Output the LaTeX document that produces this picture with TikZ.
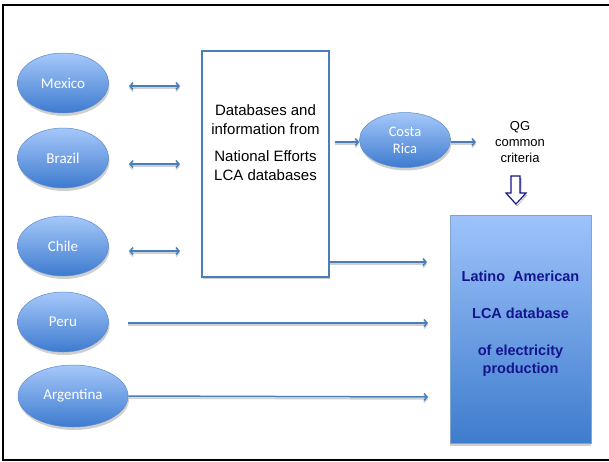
\documentclass[tikz,border=0pt]{standalone}
\usepackage{fontspec}
\setmainfont{Liberation Sans}
\newfontfamily\calib{Carlito}
\usetikzlibrary{arrows.meta,shapes.geometric,shadows}
\definecolor{lineblue}{HTML}{4A7EBB}
\definecolor{elltop}{HTML}{A6C8FA}
\definecolor{ellbot}{HTML}{3D7BCF}
\definecolor{ellborder}{HTML}{5B8ACB}
\definecolor{boxtop}{HTML}{9EC3FB}
\definecolor{boxbot}{HTML}{3E7CCD}
\definecolor{navy}{HTML}{14148C}
\definecolor{shade}{HTML}{CFCFCF}
\begin{document}
\begin{tikzpicture}[x=1pt,y=-1pt,
  country/.style={ellipse, draw=ellborder, line width=0.5pt, top color=elltop, bottom color=ellbot,
    minimum width=91pt, minimum height=60pt, inner sep=0pt, text=white, align=center,
    font=\calib\fontsize{15}{17}\selectfont,
    drop shadow={shadow xshift=1pt, shadow yshift=-3pt, fill=shade, opacity=1}},
  conn/.style={draw=lineblue, line width=1.5pt, -{Straight Barb[length=3pt,width=7pt]},
    preaction={draw=shade, line width=1.5pt, transform canvas={yshift=-2pt}}},
  dconn/.style={conn, {Straight Barb[length=3pt,width=7pt]}-{Straight Barb[length=3pt,width=7pt]}},
  dbtxt/.style={font=\fontsize{15}{19}\selectfont, align=center, inner sep=0pt},
  qgtxt/.style={font=\fontsize{13}{16}\selectfont, align=center, inner sep=0pt},
  latxt/.style={font=\bfseries\fontsize{14.5}{18}\selectfont, text=navy, align=center, inner sep=0pt}]
\useasboundingbox (0,0) rectangle (609,461);
% frame
\draw[line width=2pt] (612,5) -- (3,5) -- (3,460) -- (612,460);
% countries
\node[country] (mexico) at (63,83) {Mexico};
\node[country] (brazil) at (63,158) {Brazil};
\node[country] (chile) at (63,246) {Chile};
\node[country] (peru) at (63,322) {Peru};
\node[country, minimum width=110pt, minimum height=62pt] (argentina) at (73,396) {Argentina};
\node[country, minimum width=91pt, minimum height=55pt, font=\calib\fontsize{14.5}{17}\selectfont] (costa) at (405,140) {Costa\\Rica};
% database box
\node[draw=lineblue, line width=1.5pt, fill=white, minimum width=127pt, minimum height=226pt, inner sep=0pt,
  drop shadow={shadow xshift=1pt, shadow yshift=-2pt, fill=shade, opacity=1}] (db) at (265.5,164) {};
\node[dbtxt] (dbtext) at (265.5,143) {Databases and\\information from\\[8pt]National Efforts\\LCA databases};
% QG text
\node[qgtxt] (qg) at (520,142) {QG\\common\\criteria};
% Latin American box
\node[draw=lineblue!70, line width=0.5pt, top color=boxtop, bottom color=boxbot,
  minimum width=141pt, minimum height=228pt, inner sep=0pt,
  drop shadow={shadow xshift=0pt, shadow yshift=-3pt, fill=shade, opacity=1}] (latam) at (520.5,329) {};
\node[latxt] (latext) at (520.5,324) {Latino~~American\\[19pt]LCA database\\[19pt]of electricity\\production};
% hollow down arrow
\fill[shade] (512,178) -- (521,178) -- (521,195) -- (527,195) -- (517,206) -- (507,195) -- (512,195) -- cycle;
\draw[navy, line width=1.1pt, fill=white, line join=miter] (511,176) -- (520,176) -- (520,193) -- (526,193) -- (516,204) -- (506,193) -- (511,193) -- cycle;
% coordinates
\coordinate (m1) at (129,86); \coordinate (m2) at (180,86);
\coordinate (b1) at (129,164); \coordinate (b2) at (180,164);
\coordinate (c1) at (129,251); \coordinate (c2) at (180,251);
\coordinate (dc) at (335,142);
\coordinate (q1) at (476,142);
\coordinate (dl) at (427,262);
\coordinate (p1) at (128,323); \coordinate (p2) at (428,323);
\coordinate (a2) at (428,397);
% connectors
\draw[dconn] (m1) -- (m2);
\draw[dconn] (b1) -- (b2);
\draw[dconn] (c1) -- (c2);
\draw[conn] (dc) -- (dc -| costa.west);
\draw[conn] (costa.east |- q1) -- (q1);
\draw[conn] (db.east |- dl) -- (dl);
\draw[conn] (p1) -- (p2);
\draw[conn] (argentina.east) -- (a2);
\end{tikzpicture}
\end{document}
